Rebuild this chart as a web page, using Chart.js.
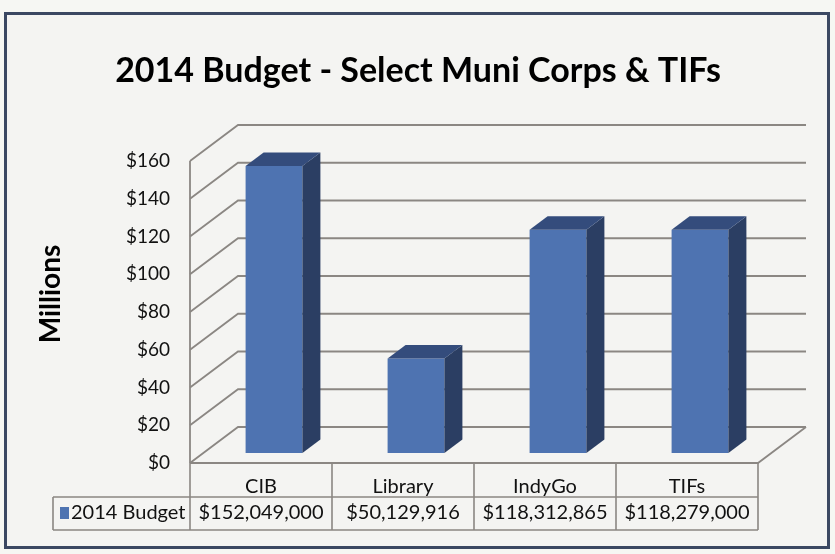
<!DOCTYPE html>
<html>
<head>
<meta charset="utf-8">
<script src="https://cdn.jsdelivr.net/npm/chart.js@4.4.1/dist/chart.umd.min.js"></script>
<style>
  html,body{margin:0;padding:0;background:#f6f7f3;}
  #wrap{width:835px;height:554px;}
</style>
</head>
<body>
<div id="wrap"><canvas id="budget"></canvas></div>
<script>
// 2014 budget, 3D-ish column chart with a data table underneath
const categories = ['CIB', 'Library', 'IndyGo', 'TIFs'];
const budget2014 = [152049000, 50129916, 118312865, 118279000];
const seriesLabel = '2014 Budget';
const yTicks = [0, 20, 40, 60, 80, 100, 120, 140, 160];

const millions = budget2014.map(v => v / 1e6);
function money(n){ return '$' + n.toLocaleString('en-US'); }

const LINE = '#8b8783';
const WALL_DX = 48, WALL_DY = -36;   // depth of the back wall
const FRONT_DX = 13, FRONT_DY = -10; // bars sit a bit behind the front plane
const BAR_DX = 18, BAR_DY = -13.5;   // bar depth

const frame = {
  id: 'frame',
  beforeDraw(chart){
    const c = chart.ctx;
    c.save();
    c.fillStyle = '#f6f7f3';
    c.fillRect(0, 0, chart.width, chart.height);
    c.fillStyle = '#f4f4f2';
    c.fillRect(6, 14, 822, 533);
    c.strokeStyle = '#3b4862';
    c.lineWidth = 3;
    c.strokeRect(5.5, 13.5, 823, 534);
    // y title
    c.translate(51, 294);
    c.rotate(-Math.PI / 2);
    c.fillStyle = '#000';
    c.font = 'bold 28px Lato';
    c.textAlign = 'center';
    c.textBaseline = 'middle';
    c.fillText('Millions', 0, 0);
    c.restore();
  }
};

const walls = {
  id: 'walls',
  beforeDatasetsDraw(chart){
    const c = chart.ctx, a = chart.chartArea, y = chart.scales.y, x = chart.scales.x;
    c.save();
    c.strokeStyle = LINE;
    c.lineWidth = 1.8;
    // back wall grid + left wall diagonals
    yTicks.forEach(v => {
      const py = y.getPixelForValue(v);
      c.beginPath();
      c.moveTo(a.left, py);
      c.lineTo(a.left + WALL_DX, py + WALL_DY);
      c.lineTo(a.right + WALL_DX, py + WALL_DY);
      c.stroke();
    });
    // front axis line
    c.beginPath();
    c.moveTo(a.left, y.getPixelForValue(160));
    c.lineTo(a.left, a.bottom);
    c.stroke();
    // floor
    c.beginPath();
    c.moveTo(a.left, a.bottom);
    c.lineTo(a.right, a.bottom);
    c.lineTo(a.right + WALL_DX, a.bottom + WALL_DY);
    c.stroke();

    // data table
    const half = (x.getPixelForValue(1) - x.getPixelForValue(0)) / 2;
    const rowMid = 497, rowBot = 530, legLeft = 53;
    c.lineWidth = 1.6;
    c.beginPath();
    c.moveTo(legLeft, rowMid); c.lineTo(a.right, rowMid);
    c.moveTo(legLeft, rowBot); c.lineTo(a.right, rowBot);
    c.moveTo(legLeft, rowMid); c.lineTo(legLeft, rowBot);
    categories.forEach((cat, i) => {
      const px = x.getPixelForValue(i) - half;
      c.moveTo(px, a.bottom); c.lineTo(px, rowBot);
    });
    c.moveTo(a.right, a.bottom); c.lineTo(a.right, rowBot);
    c.stroke();
    // legend key in table
    c.fillStyle = '#4e73b1';
    c.fillRect(60, 507, 9, 12);
    c.fillStyle = '#111';
    c.font = '20px Lato';
    c.textBaseline = 'middle';
    c.fillText(seriesLabel, 71, 513);
    c.restore();

    c.save();
    c.translate(FRONT_DX, FRONT_DY);
  },
  afterDatasetsDraw(chart){
    const c = chart.ctx;
    chart.getDatasetMeta(0).data.forEach(bar => {
      const l = bar.x - bar.width / 2, r = bar.x + bar.width / 2;
      c.fillStyle = '#2b3e63';
      c.beginPath();
      c.moveTo(r, bar.y);
      c.lineTo(r + BAR_DX, bar.y + BAR_DY);
      c.lineTo(r + BAR_DX, bar.base + BAR_DY);
      c.lineTo(r, bar.base);
      c.closePath();
      c.fill();
      c.fillStyle = '#344c7c';
      c.beginPath();
      c.moveTo(l, bar.y);
      c.lineTo(l + BAR_DX, bar.y + BAR_DY);
      c.lineTo(r + BAR_DX, bar.y + BAR_DY);
      c.lineTo(r, bar.y);
      c.closePath();
      c.fill();
    });
    c.restore();
  }
};

new Chart(document.getElementById('budget'), {
  type: 'bar',
  data: {
    labels: categories,
    datasets: [{
      label: seriesLabel,
      data: millions,
      backgroundColor: '#4e73b1',
      borderWidth: 0,
      categoryPercentage: 1,
      barPercentage: 0.4,
      clip: false
    }]
  },
  options: {
    responsive: true,
    maintainAspectRatio: false,
    animation: false,
    layout: { padding: { left: 78, right: 77, top: 0, bottom: 0 } },
    plugins: {
      legend: { display: false },
      tooltip: { enabled: false },
      title: {
        display: true,
        text: '2014 Budget - Select Muni Corps & TIFs',
        color: '#000',
        font: { family: 'Lato', size: 34, weight: 'bold', lineHeight: 1.2 },
        padding: { top: 51, bottom: 69.2 }
      }
    },
    scales: {
      x: {
        grid: { display: false, drawTicks: false },
        border: { display: false },
        ticks: {
          color: '#111',
          font: { family: 'Lato', size: 20, lineHeight: 1.3 },
          padding: 11,
          maxRotation: 0,
          callback: (v, i) => [categories[i], money(budget2014[i])]
        },
        afterFit: s => { s.height = 91; }
      },
      y: {
        min: 0, max: 160,
        grid: { display: false, drawTicks: false },
        border: { display: false },
        ticks: {
          stepSize: 20,
          color: '#111',
          font: { family: 'Lato', size: 19 },
          padding: 20,
          callback: v => '$' + v
        },
        afterFit: s => { s.width = 112; }
      }
    }
  },
  plugins: [frame, walls]
});
</script>
</body>
</html>
